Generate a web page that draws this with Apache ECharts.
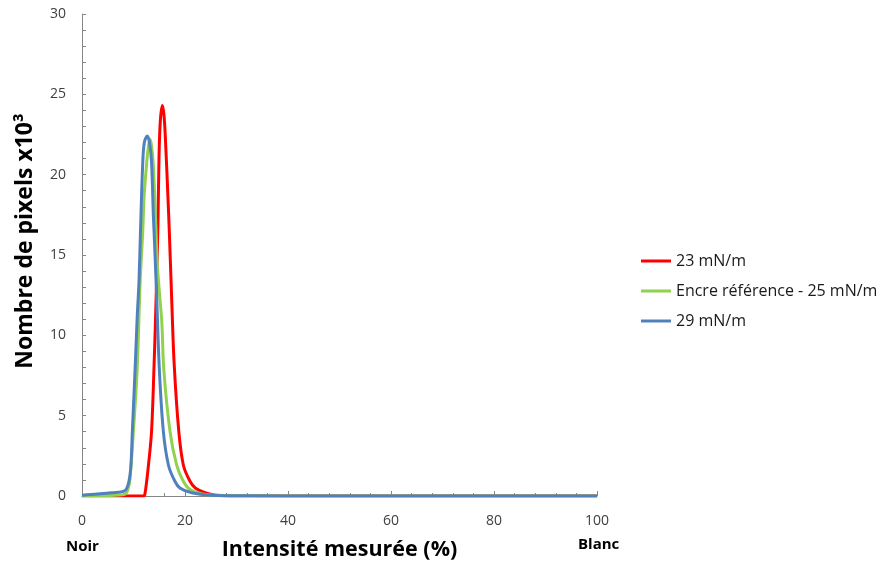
<!DOCTYPE html>
<html>
<head>
<meta charset="utf-8">
<script src="https://cdn.jsdelivr.net/npm/echarts@6/dist/echarts.min.js"></script>
<style>html,body{margin:0;padding:0;background:#fff}#c{width:880px;height:564px}</style>
</head>
<body>
<div id="c"></div>
<script>
var seriesNames = ['23 mN/m', 'Encre référence - 25 mN/m', '29 mN/m'];
var xTicks = [0, 20, 40, 60, 80, 100];
var yTicks = [0, 5, 10, 15, 20, 25, 30];

var red23 = [[0,0],[5,0],[10,0],[12,0],[12.2,0.1],[12.55,0.9],[12.9,1.9],[13.5,4.0],[14.0,8.2],[14.4,12.4],[14.75,17],[14.95,21],[15.2,23.3],[15.6,24.3],[15.95,23.6],[16.3,21.5],[16.7,18.5],[16.95,16.5],[17.4,12.4],[17.9,8.2],[18.8,4.0],[19.7,1.9],[21,0.9],[22,0.5],[23.9,0.2],[26,0.05],[30,0],[50,0],[75,0],[100,0]];
var green25 = [[0,0.02],[5,0.03],[8.3,0.1],[8.9,0.4],[9.3,1.0],[9.97,4.0],[10.7,7.8],[11.3,13.4],[11.8,16.5],[12.05,18.6],[12.4,20.1],[12.8,21.5],[13.2,22.2],[13.5,21.8],[13.85,20.6],[14.4,16.3],[14.6,14.5],[15.1,12.4],[15.5,10.8],[15.9,7.8],[17.1,4.0],[18.4,1.9],[19.7,0.9],[21,0.4],[24,0.1],[30,0.02],[50,0],[75,0],[100,0]];
var blue29 = [[0,0.05],[3,0.12],[5.7,0.2],[8.3,0.33],[9.1,0.9],[9.5,1.9],[9.77,4.0],[10.3,7.8],[10.7,11],[11.07,13.4],[11.35,16.4],[11.78,20.6],[12.1,22.0],[12.68,22.4],[13.1,22.0],[13.5,20.8],[13.85,17.5],[14.0,16.4],[14.5,12.4],[15.0,8.0],[15.8,4.0],[16.8,1.9],[18.06,0.9],[19,0.5],[21.3,0.2],[25,0.05],[30,0.02],[50,0],[75,0],[100,0]];

var FONT = '"Open Sans", "Noto Sans", sans-serif';
var chart = echarts.init(document.getElementById('c'));
function mk(name, data, color) {
  return {name: name, type: 'line', data: data, showSymbol: false, symbol: 'none',
    smooth: 0.35, lineStyle: {width: 3, color: color, join: 'round'}, itemStyle: {color: color}};
}
chart.setOption({
  animation: false,
  backgroundColor: '#fff',
  grid: {left: 82, right: 283, top: 14, bottom: 68, containLabel: false, outerBoundsMode: 'none'},
  legend: {
    orient: 'vertical', left: 636, top: 248, itemWidth: 30, itemHeight: 3, itemGap: 14,
    icon: 'rect',
    textStyle: {fontFamily: FONT, fontSize: 16, color: '#1a1a1a'},
    data: seriesNames
  },
  xAxis: {
    type: 'value', min: 0, max: 100, interval: 20,
    name: 'Intensité mesurée (%)', nameLocation: 'middle', nameGap: 43,
    nameTextStyle: {fontFamily: FONT, fontSize: 21.5, fontWeight: 'bold', color: '#000'},
    axisLine: {show: true, lineStyle: {color: '#868686', width: 1}},
    axisTick: {show: true, inside: true, length: 5, lineStyle: {color: '#868686'}},
    minorTick: {show: true, splitNumber: 5, length: 3, lineStyle: {color: '#868686'}},
    axisLabel: {fontFamily: FONT, fontSize: 14, color: '#404040', margin: 18,
      formatter: function (v) { return xTicks.indexOf(v) >= 0 ? String(v) : ''; }},
    splitLine: {show: false}
  },
  yAxis: {
    type: 'value', min: 0, max: 30, interval: 5,
    name: 'Nombre de pixels x10³', nameLocation: 'middle', nameGap: 45,
    nameTextStyle: {fontFamily: FONT, fontSize: 23, fontWeight: 'bold', color: '#000', padding: [0, 0, 0, 28]},
    axisLine: {show: true, lineStyle: {color: '#868686', width: 1}},
    axisTick: {show: true, inside: true, length: 4, lineStyle: {color: '#868686'}},
    minorTick: {show: true, splitNumber: 5, length: 4, lineStyle: {color: '#868686'}},
    axisLabel: {fontFamily: FONT, fontSize: 14, color: '#404040', margin: 16,
      formatter: function (v) { return yTicks.indexOf(v) >= 0 ? String(v) : ''; }},
    splitLine: {show: false}
  },
  graphic: [
    {type: 'text', left: 66, top: 539, style: {text: 'Noir', font: 'bold 15px ' + FONT, fill: '#000'}},
    {type: 'text', left: 578, top: 537, style: {text: 'Blanc', font: 'bold 15px ' + FONT, fill: '#000'}}
  ],
  series: [
    mk(seriesNames[0], red23, '#FF0000'),
    mk(seriesNames[1], green25, '#92D050'),
    mk(seriesNames[2], blue29, '#4F81BD')
  ]
});
</script>
</body>
</html>
